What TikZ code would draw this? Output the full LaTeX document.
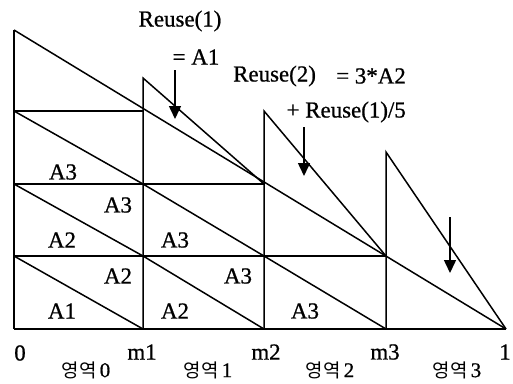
\documentclass[tikz,border=0pt]{standalone}
\usepackage{fontspec}
\setmainfont{Liberation Serif}[FakeBold=0.8]
\newfontfamily\krfont{Noto Sans CJK KR}
\usetikzlibrary{arrows.meta}
\begin{document}
\begin{tikzpicture}[x=1bp,y=-1bp,
  ln/.style={line width=1.5bp},
  thk/.style={line width=2.3bp},
  lbl/.style={font=\fontsize{23}{25}\selectfont, inner sep=0pt},
  reg/.style={font=\fontsize{19}{21}\selectfont, inner sep=0pt},
  arr/.style={line width=1.5bp,-{Triangle[length=13bp,width=12bp]}}]
\useasboundingbox (0,0) rectangle (513,383);
% key points
\coordinate (O) at (14,329);
\coordinate (T0) at (14,30);
\coordinate (M1) at (143,329);
\coordinate (M2) at (264,329);
\coordinate (M3) at (386,329);
\coordinate (E) at (506,329);
\coordinate (L1) at (14,111);
\coordinate (L2) at (14,184);
\coordinate (L3) at (14,256);
\coordinate (P1) at (143,111);
\coordinate (P2) at (264,184);
\coordinate (P3) at (386,256);
\coordinate (Q1) at (143,184);
\coordinate (Q2) at (264,256);
\coordinate (R1) at (143,256);
\coordinate (T1) at (143,78);
\coordinate (T2) at (264,111);
\coordinate (T3) at (386,152);
% frame
\draw[ln] (T0) -- (O);
\draw[thk] (O) -- (E);
\draw[ln] (T0) -- (E);
\draw[ln] (L1) -- (P1);
\draw[ln] (L2) -- (P2);
\draw[thk] (L3) -- (P3);
% interior diagonals
\draw[ln] (L1) -- (Q1) -- (Q2) -- (M3);
\draw[ln] (L2) -- (R1) -- (M2);
\draw[ln] (L3) -- (M1);
% triangles
\draw[ln] (M1) -- (T1) -- (P2);
\draw[ln] (M2) -- (T2) -- (P3);
\draw[ln] (M3) -- (T3) -- (E);
% arrows
\coordinate (a1s) at (175,70); \coordinate (a1e) at (175,119);
\coordinate (a2s) at (304,127); \coordinate (a2e) at (304,176);
\coordinate (a3s) at (450,217); \coordinate (a3e) at (450,273);
\draw[arr] (a1s) -- (a1e);
\draw[arr] (a2s) -- (a2e);
\draw[arr] (a3s) -- (a3e);
% top labels
\node[lbl] (r1) at (180,21) {Reuse(1)};
\node[lbl] (r1b) at (196,57) {= A1};
\node[lbl,anchor=west] (r2) at (233,76) {Reuse(2)};
\node[lbl,anchor=east] (r2b) at (406,76) {= 3*A2};
\node[lbl,anchor=east] (r2c) at (406,112) {+ Reuse(1)/5};
% area labels
\node[lbl] (a31) at (63,172) {A3};
\node[lbl] (a32) at (118,205) {A3};
\node[lbl] (a21) at (62,240) {A2};
\node[lbl] (a33) at (175,240) {A3};
\node[lbl] (a22) at (118,276) {A2};
\node[lbl] (a34) at (238,276) {A3};
\node[lbl] (a11) at (62,311) {A1};
\node[lbl] (a23) at (175,311) {A2};
\node[lbl] (a35) at (305,311) {A3};
% axis labels
\node[lbl] (x0) at (20,353) {0};
\node[lbl] (x1) at (142,352) {m1};
\node[lbl] (x2) at (266,352) {m2};
\node[lbl] (x3) at (385,352) {m3};
\node[lbl] (x4) at (505,352) {1};
\node[reg] (g0) at (86,370) {\krfont 영역\,\fontsize{21}{21}\rmfamily 0};
\node[reg] (g1) at (208,370) {\krfont 영역\,\fontsize{21}{21}\rmfamily 1};
\node[reg] (g2) at (330,370) {\krfont 영역\,\fontsize{21}{21}\rmfamily 2};
\node[reg] (g3) at (457,370) {\krfont 영역\,\fontsize{21}{21}\rmfamily 3};
\end{tikzpicture}
\end{document}
